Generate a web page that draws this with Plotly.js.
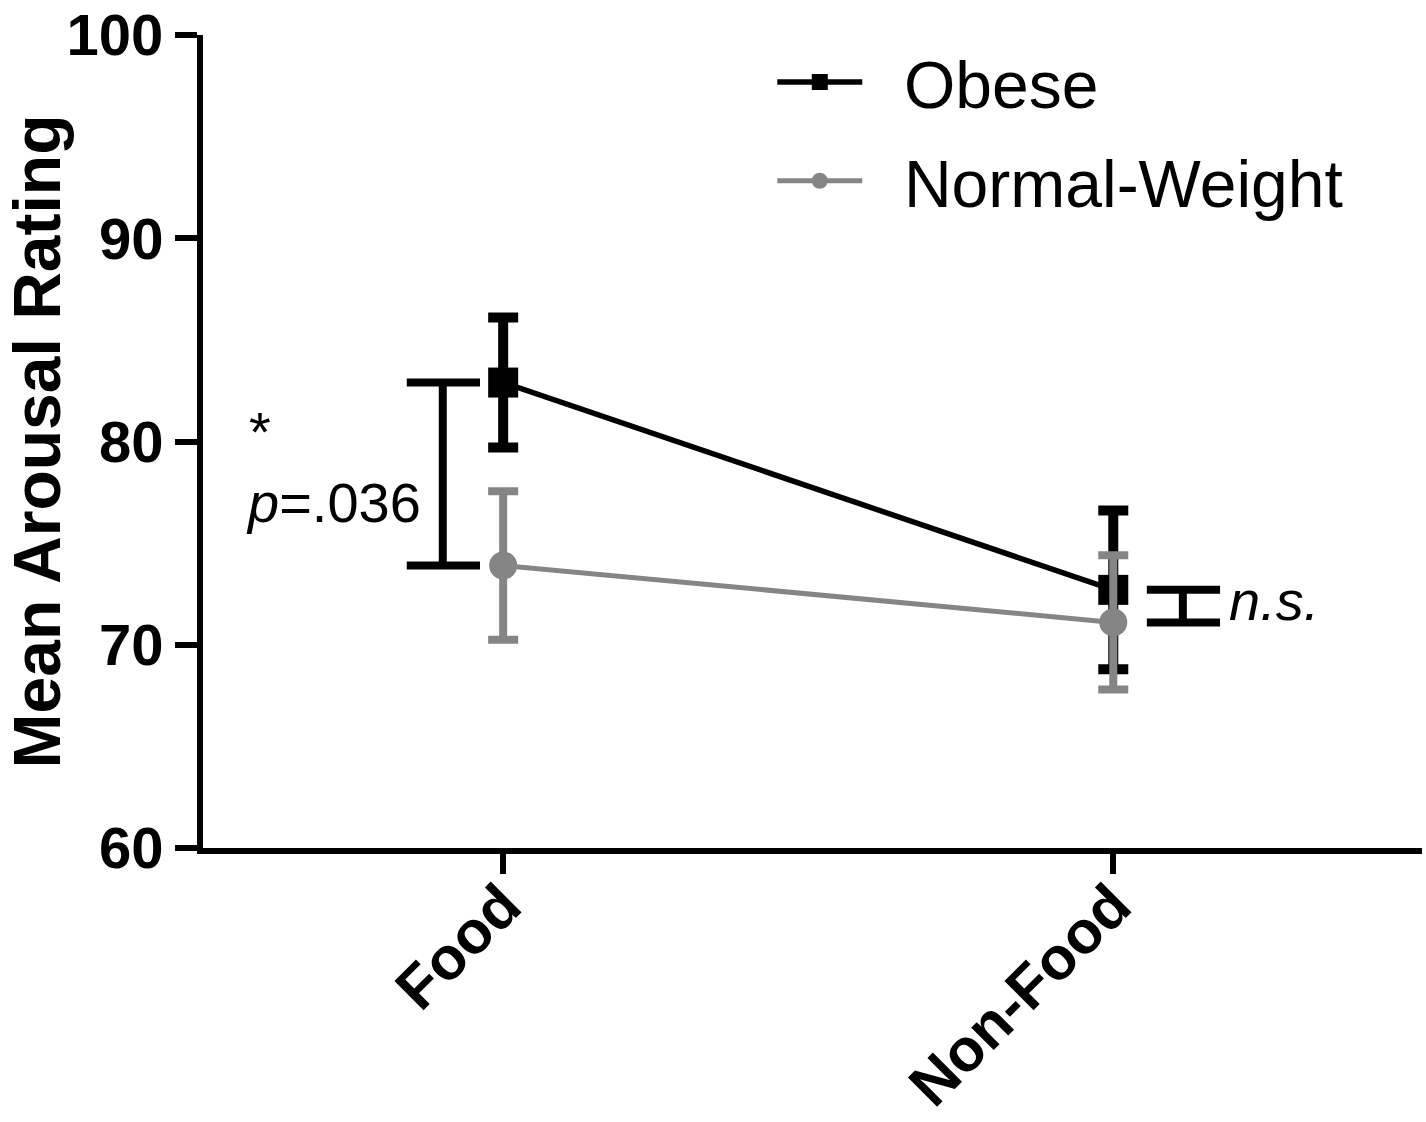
<!DOCTYPE html>
<html>
<head>
<meta charset="utf-8">
<script src="https://cdn.plot.ly/plotly-3.0.1.min.js"></script>
<style>html,body{margin:0;padding:0;background:#fff;}#chart{width:1426px;height:1122px;}</style>
</head>
<body>
<div id="chart"></div>
<script>
// ---- data ----
const categories = ["Food", "Non-Food"];
const obeseMeans = [82.9, 72.7];
const obeseErr = [3.2, 3.9];
const normalMeans = [73.9, 71.1];
const normalErr = [3.65, 3.3];
const seriesNames = ["Obese", "Normal-Weight"];
const yTickVals = [60, 70, 80, 90, 100];
const sigLabel = "*";
const pLabel = "<i>p</i>=.036";
const nsLabel = "<i>n.s.</i>";

const FONT = "Liberation Sans, Arial, Helvetica, sans-serif";
const GRAY = "#858585";
const PAD = "\u00a0\u00a0";

const traces = [
  {
    x: categories, y: obeseMeans, name: PAD + seriesNames[0], type: "scatter", mode: "lines+markers",
    legendgroup: "a",
    line: {color: "#000", width: 5.5},
    marker: {symbol: "square", size: 30, color: "#000"},
    error_y: {type: "data", array: obeseErr, visible: true, color: "#000", thickness: 10, width: 15}
  },
  {
    x: categories, y: normalMeans, name: PAD + seriesNames[1], type: "scatter", mode: "lines+markers",
    legendgroup: "b",
    line: {color: GRAY, width: 5},
    marker: {symbol: "circle", size: 28, color: GRAY},
    error_y: {type: "data", array: normalErr, visible: true, color: GRAY, thickness: 8, width: 15}
  }
];

function bracket(xc, x0, x1, yTop, yBot) {
  const ln = {color: "#000", width: 8};
  return [
    {type: "line", xref: "x", yref: "y", x0: xc, x1: xc, y0: yTop, y1: yBot, line: ln},
    {type: "line", xref: "x", yref: "y", x0: x0, x1: x1, y0: yTop, y1: yTop, line: ln},
    {type: "line", xref: "x", yref: "y", x0: x0, x1: x1, y0: yBot, y1: yBot, line: ln}
  ];
}

const shapes = [].concat(
  bracket(-0.099, -0.158, -0.038, obeseMeans[0], normalMeans[0]),
  bracket(1.114, 1.055, 1.175, obeseMeans[1], normalMeans[1])
);

const layout = {
  width: 1426, height: 1122,
  margin: {l: 203, r: 4, t: 35, b: 274},
  paper_bgcolor: "#fff", plot_bgcolor: "#fff",
  font: {family: FONT, color: "#000"},
  showlegend: true,
  legend: {
    x: 0.467, y: 1.003, xanchor: "left", yanchor: "top",
    font: {family: FONT, size: 66, color: "#000"},
    bgcolor: "rgba(0,0,0,0)", itemwidth: 85, traceorder: "grouped", tracegroupgap: 10
  },
  xaxis: {
    type: "category", range: [-0.492, 1.506],
    showline: true, linecolor: "#000", linewidth: 6,
    ticks: "outside", ticklen: 20, tickwidth: 6, tickcolor: "#000",
    tickangle: -45, ticklabelstandoff: -28,
    tickfont: {family: FONT, size: 60, weight: "bold", color: "#000"},
    showgrid: false, zeroline: false, fixedrange: true
  },
  yaxis: {
    range: [60, 100], tickvals: yTickVals,
    showline: true, linecolor: "#000", linewidth: 6,
    ticks: "outside", ticklen: 22, tickwidth: 6, tickcolor: "#000",
    tickfont: {family: FONT, size: 58, weight: "bold", color: "#000"},
    showgrid: false, zeroline: false,
    title: {text: "Mean Arousal Rating", font: {family: FONT, size: 66, weight: "bold", color: "#000"}, standoff: 6}
  },
  shapes: shapes,
  annotations: [
    {x: -0.399, y: 80.5, xref: "x", yref: "y", text: sigLabel, showarrow: false,
     font: {family: FONT, size: 56, color: "#000"}, xanchor: "center", yanchor: "middle"},
    {x: -0.425, y: 77.0, xref: "x", yref: "y", text: pLabel, showarrow: false,
     font: {family: FONT, size: 56, color: "#000"}, xanchor: "left", yanchor: "middle"},
    {x: 1.186, y: 72.2, xref: "x", yref: "y", text: nsLabel, showarrow: false,
     font: {family: FONT, size: 56, color: "#000"}, xanchor: "left", yanchor: "middle"}
  ]
};

Plotly.newPlot("chart", traces, layout, {displayModeBar: false, staticPlot: true});
</script>
</body>
</html>
